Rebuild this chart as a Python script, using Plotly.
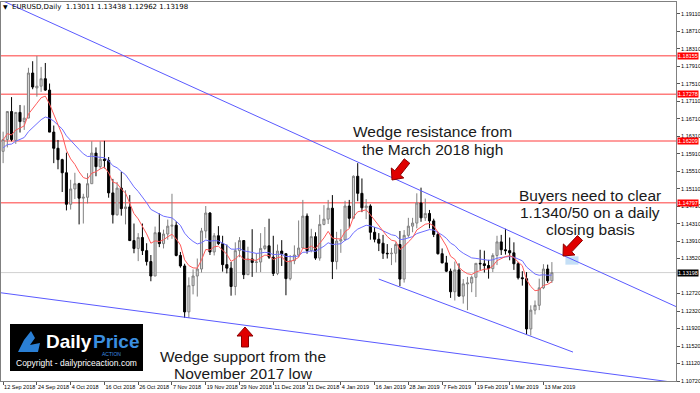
import math
import pandas as pd
import plotly.graph_objects as go

# ---------------- DATA ----------------
dates = [
    "2018-09-12", "2018-09-13", "2018-09-14", "2018-09-17", "2018-09-18", "2018-09-19", "2018-09-20", "2018-09-21",
    "2018-09-24", "2018-09-25", "2018-09-26", "2018-09-27", "2018-09-28",
    "2018-10-01", "2018-10-02", "2018-10-03", "2018-10-04", "2018-10-05", "2018-10-08", "2018-10-09", "2018-10-10",
    "2018-10-11", "2018-10-12", "2018-10-15", "2018-10-16", "2018-10-17", "2018-10-18", "2018-10-19", "2018-10-22",
    "2018-10-23", "2018-10-24", "2018-10-25", "2018-10-26", "2018-10-29", "2018-10-30", "2018-10-31",
    "2018-11-01", "2018-11-02", "2018-11-05", "2018-11-06", "2018-11-07", "2018-11-08", "2018-11-09", "2018-11-12",
    "2018-11-13", "2018-11-14", "2018-11-15", "2018-11-16", "2018-11-19", "2018-11-20", "2018-11-21", "2018-11-22",
    "2018-11-23", "2018-11-26", "2018-11-27", "2018-11-28", "2018-11-29", "2018-11-30",
    "2018-12-03", "2018-12-04", "2018-12-05", "2018-12-06", "2018-12-07", "2018-12-10", "2018-12-11", "2018-12-12",
    "2018-12-13", "2018-12-14", "2018-12-17", "2018-12-18", "2018-12-19", "2018-12-20", "2018-12-21", "2018-12-24",
    "2018-12-26", "2018-12-27", "2018-12-28", "2018-12-31",
    "2019-01-02", "2019-01-03", "2019-01-04", "2019-01-07", "2019-01-08", "2019-01-09", "2019-01-10", "2019-01-11",
    "2019-01-14", "2019-01-15", "2019-01-16", "2019-01-17", "2019-01-18", "2019-01-21", "2019-01-22", "2019-01-23",
    "2019-01-24", "2019-01-25", "2019-01-28", "2019-01-29", "2019-01-30", "2019-01-31",
    "2019-02-01", "2019-02-04", "2019-02-05", "2019-02-06", "2019-02-07", "2019-02-08", "2019-02-11", "2019-02-12",
    "2019-02-13", "2019-02-14", "2019-02-15", "2019-02-18", "2019-02-19", "2019-02-20", "2019-02-21", "2019-02-22",
    "2019-02-25", "2019-02-26", "2019-02-27", "2019-02-28",
    "2019-03-01", "2019-03-04", "2019-03-05", "2019-03-06", "2019-03-07", "2019-03-08", "2019-03-11", "2019-03-12",
    "2019-03-13", "2019-03-14", "2019-03-15",
]

opens = [
    1.1597, 1.1624, 1.1688, 1.1622, 1.1686, 1.1665, 1.1673, 1.1776, 1.1742, 1.1746, 1.1763, 1.1737, 1.1641,
    1.1604, 1.1578, 1.1548, 1.1476, 1.1511, 1.1523, 1.1490, 1.1492, 1.1523, 1.1593, 1.1562, 1.1579, 1.1576,
    1.1502, 1.1452, 1.1513, 1.1466, 1.1470, 1.1393, 1.1375, 1.1400, 1.1370, 1.1345,
    1.1312, 1.1411, 1.1386, 1.1408, 1.1426, 1.1428, 1.1359, 1.1335, 1.1230, 1.1290, 1.1312, 1.1328, 1.1415,
    1.1456, 1.1367, 1.1404, 1.1386, 1.1338, 1.1330, 1.1288, 1.1370, 1.1393,
    1.1315, 1.1351, 1.1343, 1.1344, 1.1375, 1.1381, 1.1355, 1.1318, 1.1369, 1.1363, 1.1306, 1.1347, 1.1360,
    1.1376, 1.1449, 1.1370, 1.1402, 1.1353, 1.1430, 1.1442,
    1.1467, 1.1345, 1.1392, 1.1395, 1.1472, 1.1444, 1.1540, 1.1501, 1.1468, 1.1472, 1.1412, 1.1396, 1.1387,
    1.1364, 1.1363, 1.1364, 1.1384, 1.1305, 1.1405, 1.1426, 1.1433, 1.1479,
    1.1445, 1.1455, 1.1438, 1.1407, 1.1363, 1.1342, 1.1323, 1.1276, 1.1326, 1.1266, 1.1294, 1.1296, 1.1309,
    1.1341, 1.1340, 1.1336, 1.1329, 1.1359, 1.1390, 1.1372,
    1.1370, 1.1365, 1.1340, 1.1308, 1.1306, 1.1191, 1.1234, 1.1245, 1.1285, 1.1328, 1.13011,
]

highs = [
    1.1642, 1.1689, 1.1721, 1.1687, 1.1703, 1.1702, 1.1788, 1.1803, 1.1815, 1.1790, 1.1799, 1.1752, 1.1656,
    1.1623, 1.1580, 1.1594, 1.1532, 1.1548, 1.1525, 1.1500, 1.1547, 1.1620, 1.1606, 1.1620, 1.1621, 1.1584,
    1.1534, 1.1527, 1.1550, 1.1508, 1.1497, 1.1432, 1.1410, 1.1432, 1.1387, 1.1360,
    1.1425, 1.1455, 1.1418, 1.1441, 1.1500, 1.1437, 1.1367, 1.1340, 1.1309, 1.1327, 1.1352, 1.1422, 1.1472,
    1.1458, 1.1410, 1.1426, 1.1404, 1.1384, 1.1344, 1.1389, 1.1401, 1.1394,
    1.1379, 1.1419, 1.1364, 1.1410, 1.1424, 1.1443, 1.1404, 1.1384, 1.1394, 1.1364, 1.1360, 1.1382, 1.1439,
    1.1486, 1.1455, 1.1420, 1.1412, 1.1452, 1.1474, 1.1486,
    1.1497, 1.1413, 1.1419, 1.1484, 1.1486, 1.1542, 1.1570, 1.1535, 1.1488, 1.1476, 1.1424, 1.1410, 1.1406,
    1.1385, 1.1376, 1.1389, 1.1415, 1.1417, 1.1445, 1.1445, 1.1501, 1.1514,
    1.1489, 1.1463, 1.1443, 1.1413, 1.1375, 1.1358, 1.1329, 1.1345, 1.1341, 1.1305, 1.1310, 1.1313, 1.1341,
    1.1372, 1.1370, 1.1349, 1.1364, 1.1404, 1.1406, 1.1420,
    1.1400, 1.1389, 1.1344, 1.1323, 1.1321, 1.1245, 1.1256, 1.1306, 1.1339, 1.1338, 1.13438,
]

lows = [
    1.1570, 1.1606, 1.1620, 1.1614, 1.1640, 1.1646, 1.1673, 1.1739, 1.1722, 1.1733, 1.1735, 1.1644, 1.1570,
    1.1556, 1.1504, 1.1462, 1.1464, 1.1488, 1.1430, 1.1432, 1.1478, 1.1523, 1.1540, 1.1557, 1.1558, 1.1491,
    1.1432, 1.1450, 1.1450, 1.1430, 1.1395, 1.1364, 1.1346, 1.1360, 1.1336, 1.1300,
    1.1312, 1.1378, 1.1375, 1.1395, 1.1397, 1.1357, 1.1331, 1.1216, 1.1216, 1.1270, 1.1265, 1.1320, 1.1398,
    1.1360, 1.1359, 1.1383, 1.1322, 1.1318, 1.1267, 1.1268, 1.1355, 1.1305,
    1.1315, 1.1310, 1.1320, 1.1321, 1.1371, 1.1351, 1.1312, 1.1314, 1.1335, 1.1268, 1.1302, 1.1339, 1.1355,
    1.1376, 1.1363, 1.1366, 1.1349, 1.1347, 1.1428, 1.1431,
    1.1305, 1.1327, 1.1365, 1.1393, 1.1422, 1.1442, 1.1483, 1.1458, 1.1442, 1.1395, 1.1389, 1.1369, 1.1351,
    1.1352, 1.1337, 1.1343, 1.1289, 1.1297, 1.1400, 1.1412, 1.1421, 1.1436,
    1.1438, 1.1421, 1.1401, 1.1361, 1.1341, 1.1321, 1.1262, 1.1256, 1.1266, 1.1249, 1.1234, 1.1275, 1.1264,
    1.1326, 1.1320, 1.1306, 1.1321, 1.1337, 1.1360, 1.1361,
    1.1348, 1.1326, 1.1304, 1.1290, 1.1178, 1.1176, 1.1224, 1.1234, 1.1282, 1.1296, 1.12962,
]

closes = [
    1.1624, 1.1688, 1.1624, 1.1686, 1.1665, 1.1673, 1.1776, 1.1744, 1.1746, 1.1763, 1.1737, 1.1641, 1.1604,
    1.1578, 1.1548, 1.1476, 1.1511, 1.1523, 1.1490, 1.1492, 1.1523, 1.1593, 1.1562, 1.1579, 1.1576, 1.1502,
    1.1452, 1.1513, 1.1466, 1.1470, 1.1393, 1.1375, 1.1400, 1.1370, 1.1345, 1.1312,
    1.1411, 1.1386, 1.1408, 1.1426, 1.1428, 1.1359, 1.1335, 1.1230, 1.1290, 1.1312, 1.1328, 1.1415, 1.1456,
    1.1367, 1.1404, 1.1386, 1.1338, 1.1330, 1.1288, 1.1370, 1.1393, 1.1315,
    1.1351, 1.1343, 1.1344, 1.1375, 1.1381, 1.1355, 1.1318, 1.1369, 1.1363, 1.1306, 1.1347, 1.1360, 1.1376,
    1.1449, 1.1370, 1.1402, 1.1353, 1.1430, 1.1442, 1.1467,
    1.1345, 1.1392, 1.1395, 1.1472, 1.1444, 1.1540, 1.1501, 1.1468, 1.1472, 1.1412, 1.1396, 1.1387, 1.1364,
    1.1363, 1.1364, 1.1384, 1.1305, 1.1405, 1.1426, 1.1433, 1.1479, 1.1445,
    1.1455, 1.1438, 1.1407, 1.1363, 1.1342, 1.1323, 1.1276, 1.1326, 1.1266, 1.1294, 1.1296, 1.1309, 1.1341,
    1.1340, 1.1336, 1.1329, 1.1359, 1.1390, 1.1372, 1.1370,
    1.1365, 1.1340, 1.1308, 1.1306, 1.1191, 1.1234, 1.1245, 1.1285, 1.1328, 1.1301, 1.13198,
]

# right axis tick labels as shown by the platform (1.13120 is hidden behind the last-price tag)
ytick_vals = [1.19110, 1.18710, 1.18310, 1.17910, 1.17510, 1.17110, 1.16710, 1.16310, 1.15910, 1.15510,
              1.15110, 1.14710, 1.14310, 1.13910, 1.13520, 1.12720, 1.12320, 1.11920, 1.11520,
              1.11120, 1.10720]
ytick_text = ["1.19110", "1.18710", "1.18310", "1.17910", "1.17510", "1.17110", "1.16710", "1.16310",
              "1.15910", "1.15510", "1.15110", "1.14710", "1.14310", "1.13910", "1.13520",
              "1.12720", "1.12320", "1.11920", "1.11520", "1.11120", "1.10720"]

# horizontal levels
level_prices = [1.18155, 1.17278, 1.16209, 1.14797]
level_labels = ["1.18155", "1.17278", "1.16209", "1.14797"]
last_price = 1.13198
last_label = "1.13198"

# moving averages (red fast, blue slow) and their values at the first bar
ma_fast_period, ma_fast_seed = 8, 1.1623
ma_slow_period, ma_slow_seed = 21, 1.1605

# trend lines: two anchor points (date, price)
upper_line = [("2018-09-14", 1.1932), ("2019-03-15", 1.1371)]
lower_line = [("2018-09-12", 1.1273), ("2019-03-15", 1.1106)]
channel_line = [("2019-01-17", 1.1305), ("2019-03-07", 1.1178)]
zone_low, zone_high = 1.1338, 1.1357   # 1.1340/50 zone

title_text = "EURUSD,Daily  1.13011 1.13438 1.12962 1.13198"

# ---------------- HELPERS ----------------
n = len(dates)
idx = list(range(n))
pos = {d: i for i, d in enumerate(dates)}
dts = pd.to_datetime(dates)

X_MIN, X_MAX = -0.5, 159.4
Y_MIN, Y_MAX = 1.1072, 1.19384
PL, PR, PT, PB = 1, 676, 2, 381   # plot area in pixels
W, H = 700, 393


def px(x):
    return (x - PL) / (PR - PL)


def py(y):
    return (PB - y) / (PB - PT)


def ema(vals, period, seed):
    a = 2.0 / (period + 1)
    out = [seed]
    for v in vals[1:]:
        out.append(out[-1] + a * (v - out[-1]))
    return out


def line_through(anchors, x_from, x_to):
    (d0, p0), (d1, p1) = anchors
    i0, i1 = pos[d0], pos[d1]
    slope = (p1 - p0) / (i1 - i0)
    return dict(x0=x_from, y0=p0 + slope * (x_from - i0), x1=x_to, y1=p0 + slope * (x_to - i0))


def block_arrow(tip, tail, head_w=16, head_l=9, shaft_w=7):
    tx, ty = tip
    dx, dy = tail[0] - tx, tail[1] - ty
    L = math.hypot(dx, dy)
    ux, uy = dx / L, dy / L
    nx, ny = -uy, ux
    bx, by = tx + ux * head_l, ty + uy * head_l
    pts = [
        (tx, ty),
        (bx + nx * head_w / 2, by + ny * head_w / 2),
        (bx + nx * shaft_w / 2, by + ny * shaft_w / 2),
        (tail[0] + nx * shaft_w / 2, tail[1] + ny * shaft_w / 2),
        (tail[0] - nx * shaft_w / 2, tail[1] - ny * shaft_w / 2),
        (bx - nx * shaft_w / 2, by - ny * shaft_w / 2),
        (bx - nx * head_w / 2, by - ny * head_w / 2),
    ]
    path = "M " + " L ".join(f"{px(a):.5f},{py(b):.5f}" for a, b in pts) + " Z"
    return dict(type="path", path=path, xref="paper", yref="paper",
                fillcolor="#e00000", line=dict(color="#8b0000", width=1), layer="above")


# ---------------- FIGURE ----------------
fig = go.Figure()

fig.add_trace(go.Scatter(x=idx, y=ema(closes, ma_slow_period, ma_slow_seed), mode="lines",
                         line=dict(color="rgb(110,110,255)", width=1), hoverinfo="skip"))
fig.add_trace(go.Scatter(x=idx, y=ema(closes, ma_fast_period, ma_fast_seed), mode="lines",
                         line=dict(color="rgb(255,90,90)", width=1), hoverinfo="skip"))

fig.add_trace(go.Candlestick(
    x=idx, open=opens, high=highs, low=lows, close=closes,
    increasing=dict(line=dict(color="#808080", width=1), fillcolor="#d6d6d6"),
    decreasing=dict(line=dict(color="#000000", width=1), fillcolor="#000000"),
    whiskerwidth=0, hoverinfo="skip"))

shapes = []
for p in level_prices:
    shapes.append(dict(type="line", xref="paper", yref="y", x0=0, x1=1, y0=p, y1=p,
                       line=dict(color="rgba(255,80,80,0.75)", width=1.5), layer="below"))
shapes.append(dict(type="line", xref="paper", yref="y", x0=0, x1=1, y0=last_price, y1=last_price,
                   line=dict(color="#d0d0d0", width=1), layer="below"))

blue = "rgb(90,90,255)"
shapes.append(dict(type="line", xref="x", yref="y", line=dict(color=blue, width=1),
                   **line_through(upper_line, X_MIN, X_MAX)))
shapes.append(dict(type="line", xref="x", yref="y", line=dict(color=blue, width=1),
                   **line_through(lower_line, X_MIN, X_MAX)))
shapes.append(dict(type="line", xref="x", yref="y", line=dict(color=blue, width=1),
                   **line_through(channel_line, 89, 135)))

# light blue 1.1340/50 zone
shapes.append(dict(type="rect", xref="x", yref="y", x0=133.2, x1=136.3, y0=zone_low, y1=zone_high,
                   fillcolor="rgba(190,220,245,0.9)", line=dict(width=0), layer="below"))

# red arrows
shapes.append(block_arrow((392, 180), (407, 161)))
shapes.append(block_arrow((563, 256), (580, 238)))
shapes.append(block_arrow((245, 327), (245, 347)))

# logo box
shapes.append(dict(type="rect", xref="paper", yref="paper", x0=px(10), x1=px(143), y0=py(371), y1=py(324),
                   fillcolor="black", line=dict(width=0), layer="above"))
# logo icon (stylised flame)
icon = [(18, 352), (24, 340), (31, 331), (35, 338), (30, 345), (40, 343), (38, 352)]
shapes.append(dict(type="path", xref="paper", yref="paper", layer="above",
                   path="M " + " L ".join(f"{px(a):.5f},{py(b):.5f}" for a, b in icon) + " Z",
                   fillcolor="#2a7fd4", line=dict(width=0)))

fig.update_layout(shapes=shapes)

ann = []
txt_font = dict(family="Liberation Sans, Arial, sans-serif", size=16, color="#1a1a1a")


def text_at(t, x, y, size=15.5, color="#1a1a1a", xanchor="center", bold=False, family=None):
    f = dict(txt_font)
    f["size"] = size
    f["color"] = color
    if family:
        f["family"] = family
    ann.append(dict(text=f"<b>{t}</b>" if bold else t, x=px(x), y=py(y), xref="paper", yref="paper",
                    xanchor=xanchor, yanchor="middle", showarrow=False, font=f))


text_at("Wedge resistance from", 432, 132)
text_at("the March 2018 high", 432, 149)
text_at("Buyers need to clear", 590, 195)
text_at("1.1340/50 on a daily", 590, 212)
text_at("closing basis", 590, 229)
text_at("Wedge support from the", 243, 356)
text_at("November 2017 low", 243, 373)

# logo text
text_at("Daily", 44, 341, size=19, color="white", xanchor="left", bold=True)
text_at("Price", 91, 341, size=19, color="#3b8fe0", xanchor="left", bold=True)
text_at("ACTION", 111, 354, size=5, color="#3b8fe0", xanchor="center")
text_at("Copyright - dailypriceaction.com", 76, 363, size=8.5, color="white", xanchor="center")

# title
text_at("\u25bc", 5, 7, size=6, color="black", xanchor="center", family="DejaVu Sans")
text_at(title_text, 10, 7, size=7, color="black", xanchor="left", family="DejaVu Sans")

# right axis price labels
for p, t in zip(level_prices, level_labels):
    ann.append(dict(text=t, x=1, y=p, xref="paper", yref="y", xanchor="left", yanchor="middle",
                    xshift=1, showarrow=False, bgcolor="#ff0000", borderpad=0,
                    font=dict(family="Liberation Sans", size=5.5, color="white")))
ann.append(dict(text=last_label, x=1, y=last_price, xref="paper", yref="y", xanchor="left", yanchor="middle",
                xshift=1, showarrow=False, bgcolor="#000000", borderpad=0,
                font=dict(family="Liberation Sans", size=5.5, color="white")))

fig.update_layout(annotations=ann)

tick_idx = list(range(0, n, 8))
tick_txt = [f"{dts[i].day} {dts[i].strftime('%b %Y')}" for i in tick_idx]

fig.update_layout(
    width=W, height=H,
    margin=dict(l=PL, r=W - PR, t=PT, b=H - PB, autoexpand=False),
    paper_bgcolor="white", plot_bgcolor="white", showlegend=False,
    xaxis=dict(range=[X_MIN, X_MAX], rangeslider=dict(visible=False), showgrid=False, zeroline=False,
               tickmode="array", tickvals=tick_idx, ticktext=tick_txt, tickangle=0, automargin=False,
               tickfont=dict(family="Liberation Sans", size=5.5, color="black"),
               ticks="outside", ticklen=3, tickcolor="#555", ticklabelposition="outside right",
               showline=True, linecolor="#808080", linewidth=1, mirror=True),
    yaxis=dict(range=[Y_MIN, Y_MAX], side="right", showgrid=False, zeroline=False, automargin=False,
               tickmode="array", tickvals=ytick_vals, ticktext=ytick_text,
               tickfont=dict(family="Liberation Sans", size=5.5, color="black"),
               ticks="outside", ticklen=3, tickcolor="#555",
               showline=True, linecolor="#808080", linewidth=1, mirror=True),
    boxgap=0.3,
)

fig.write_html("out.html")
